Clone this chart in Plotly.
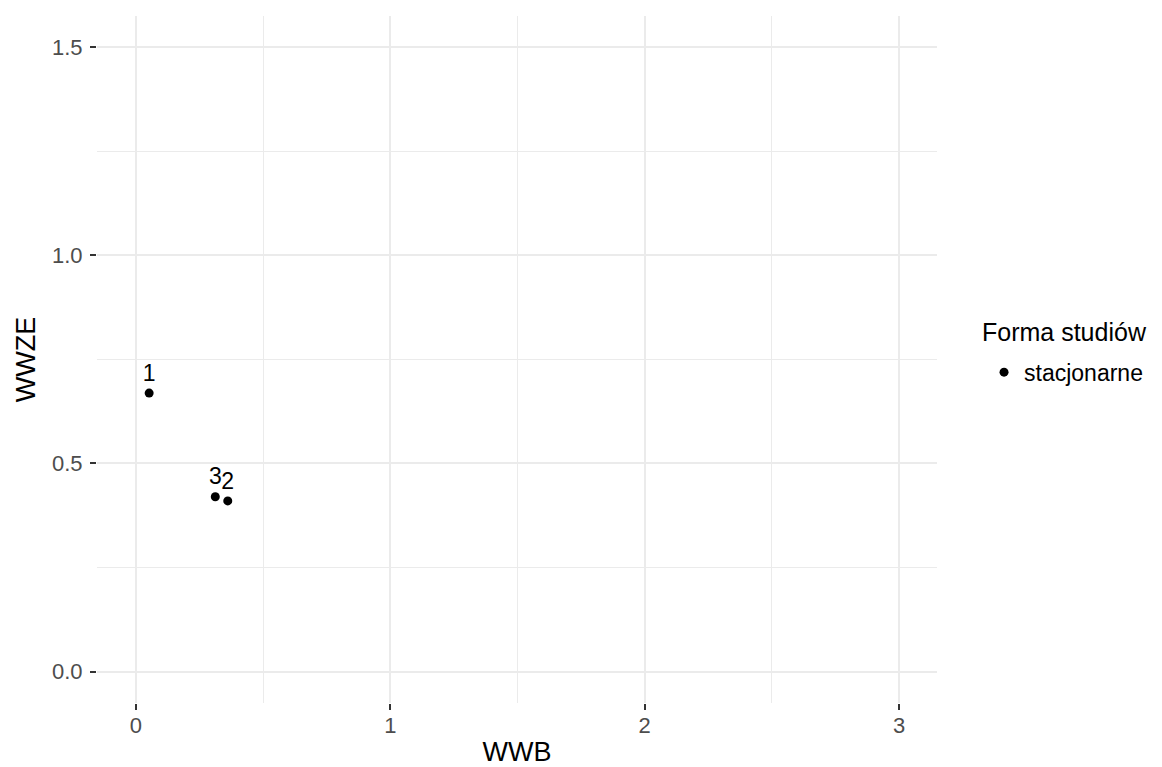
import plotly.graph_objects as go

# Data
labels = ["1", "2", "3"]
wwb = [0.052, 0.361, 0.312]
wwze = [0.669, 0.410, 0.420]
series_name = "stacjonarne"
legend_title = "Forma studiów"
x_ticks = [0, 1, 2, 3]
y_ticks = [0.0, 0.5, 1.0, 1.5]
y_ticklabels = ["0.0", "0.5", "1.0", "1.5"]

FONT = "Liberation Sans, Arial, Helvetica, sans-serif"
GRID = "#ebebeb"

fig = go.Figure()
fig.add_trace(go.Scatter(
    x=wwb, y=wwze, text=labels, name=series_name,
    mode="markers+text", textposition="top center",
    textfont=dict(family=FONT, size=23, color="black"),
    marker=dict(color="black", size=9),
    showlegend=True,
))

axis_common = dict(
    showline=False, zeroline=False, automargin=False,
    showgrid=True, gridcolor=GRID, gridwidth=2,
    ticks="outside", ticklen=6, tickwidth=2, tickcolor="#333333",
    tickfont=dict(family=FONT, size=22, color="#4d4d4d"),
)

fig.update_layout(
    width=1154, height=759,
    margin=dict(l=89, r=225, t=8, b=64),
    paper_bgcolor="white", plot_bgcolor="white",
    font=dict(family=FONT, color="black"),
    xaxis=dict(
        range=[-0.153, 3.149], tickvals=x_ticks, ticktext=[str(v) for v in x_ticks],
        minor=dict(dtick=0.5, tick0=0, showgrid=True, gridcolor=GRID, gridwidth=1, ticks=""),
        ticklabelstandoff=-3,
        title=dict(text="WWB", font=dict(family=FONT, size=27, color="black"), standoff=26),
        **axis_common,
    ),
    yaxis=dict(
        range=[-0.0755, 1.575], tickvals=y_ticks, ticktext=y_ticklabels,
        minor=dict(dtick=0.25, tick0=0, showgrid=True, gridcolor=GRID, gridwidth=1, ticks=""),
        ticklabelstandoff=3,
        title=dict(text="WWZE", font=dict(family=FONT, size=27, color="black"), standoff=8),
        **axis_common,
    ),
    legend=dict(
        font=dict(family=FONT, size=23, color="black"),
        x=1.0560, xanchor="left", y=0.4815, yanchor="middle",
        bgcolor="rgba(0,0,0,0)",
    ),
    annotations=[dict(
        text=legend_title, xref="paper", yref="paper",
        x=1.0512, y=0.540, xanchor="left", yanchor="middle",
        showarrow=False, font=dict(family=FONT, size=25, color="black"),
    )],
)

fig.write_html("out.html")
